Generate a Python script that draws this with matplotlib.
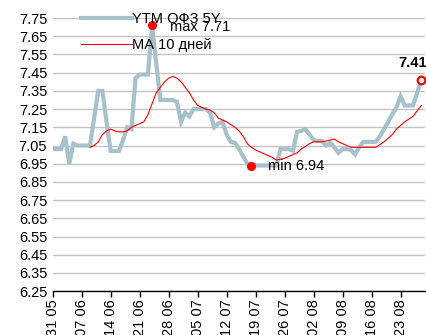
import matplotlib
matplotlib.use("Agg")
import matplotlib.pyplot as plt
import numpy as np

plt.rcParams['font.family'] = ['Liberation Sans', 'DejaVu Sans']

# daily yields, 31.05 - 28.08
ytm = [7.03, 7.03, 7.03, 7.10, 6.95, 7.06, 7.05, 7.05, 7.05, 7.05,
       7.20, 7.35, 7.35, 7.18, 7.02, 7.02, 7.02, 7.08, 7.15, 7.14,
       7.42, 7.44, 7.44, 7.44, 7.71, 7.50, 7.30, 7.30, 7.30, 7.30,
       7.29, 7.18, 7.23, 7.21, 7.25, 7.25, 7.25, 7.25, 7.23, 7.15,
       7.17, 7.18, 7.11, 7.07, 7.065, 7.03, 6.99, 6.95, 6.94, 6.94,
       6.94, 6.94, 6.94, 6.94, 6.94, 7.03, 7.03, 7.03, 7.02, 7.125,
       7.13, 7.14, 7.11, 7.08, 7.075, 7.075, 7.05, 7.065, 7.04, 7.01,
       7.03, 7.03, 7.025, 7.00, 7.04, 7.07, 7.07, 7.07, 7.07, 7.10,
       7.14, 7.18, 7.22, 7.26, 7.32, 7.27, 7.27, 7.27, 7.34, 7.41]

# 10-day moving average, starts on the 10th day
ma10 = [7.04, 7.05, 7.07, 7.11, 7.13, 7.14, 7.13, 7.125, 7.125, 7.13,
        7.15, 7.16, 7.17, 7.18, 7.22, 7.28, 7.34, 7.37, 7.40, 7.42,
        7.43, 7.42, 7.40, 7.37, 7.34, 7.30, 7.27, 7.26, 7.25, 7.245,
        7.23, 7.20, 7.19, 7.18, 7.165, 7.15, 7.13, 7.10, 7.06, 7.04,
        7.025, 7.015, 7.005, 6.995, 6.985, 6.97, 6.975, 6.98, 6.99, 7.00,
        7.01, 7.03, 7.045, 7.06, 7.07, 7.07, 7.07, 7.075, 7.08, 7.085,
        7.07, 7.06, 7.05, 7.04, 7.04, 7.04, 7.04, 7.04, 7.04, 7.04,
        7.055, 7.07, 7.09, 7.11, 7.14, 7.16, 7.18, 7.195, 7.21, 7.24,
        7.27]
ma_start = 9

tick_labels = ["31 05", "07 06", "14 06", "21 06", "28 06", "05 07", "12 07",
               "19 07", "26 07", "02 08", "09 08", "16 08", "23 08"]
y_ticks = [6.25, 6.35, 6.45, 6.55, 6.65, 6.75, 6.85, 6.95, 7.05, 7.15,
           7.25, 7.35, 7.45, 7.55, 7.65, 7.75]

x = np.arange(len(ytm))
x_ma = np.arange(ma_start, ma_start + len(ma10))
i_max = int(np.argmax(ytm))
i_min = int(np.argmin(ytm))
last = len(ytm) - 1

fig = plt.figure(figsize=(4.26, 3.35), dpi=100)
ax = fig.add_axes([0.1237, 0.131, 0.874, 0.815])

ax.plot(x, ytm, color="#a7c1ca", lw=3.0, solid_joinstyle="miter",
        label="YTM ОФЗ 5Y", zorder=2)
ax.plot(x_ma, ma10, color="#ff0000", lw=0.8, label="МА 10 дней", zorder=3)

ax.plot(i_max, ytm[i_max], "o", color="#ff0000", ms=5.5, zorder=4)
ax.plot(i_min, ytm[i_min], "o", color="#ff0000", ms=5.5, zorder=4)
ax.plot(last, ytm[last], "o", mfc="white", mec="#ff0000", mew=1.6, ms=5.5, zorder=4)

ax.annotate(f"max {ytm[i_max]:.2f}", (i_max, ytm[i_max]), xytext=(13, -1),
            textcoords="offset points", fontsize=10.5, va="center", zorder=5)
ax.annotate(f"min {ytm[i_min]:.2f}", (i_min, ytm[i_min]), xytext=(12, 0),
            textcoords="offset points", fontsize=10.5, va="center", zorder=5)
ax.annotate(f"{ytm[last]:.2f}", (last, ytm[last]), xytext=(4, 12),
            textcoords="offset points", fontsize=10.5, fontweight="bold",
            ha="right", va="center", zorder=5, annotation_clip=False)

ax.set_ylim(6.25, 7.75)
ax.set_yticks(y_ticks)
ax.set_yticklabels([f"{v:.2f}" for v in y_ticks])
ax.set_xlim(0, 89.9)
ax.set_xticks(np.arange(0, 7 * len(tick_labels), 7))
ax.set_xticklabels(tick_labels, rotation=90)

ax.grid(axis="y", color="#c4c4c4", lw=1.0)
ax.set_axisbelow(True)
for side in ("left", "right", "top"):
    ax.spines[side].set_visible(False)
ax.spines["bottom"].set_color("black")
ax.spines["bottom"].set_linewidth(1.0)
ax.tick_params(axis="y", length=0, labelsize=10.5, pad=4)
ax.tick_params(axis="x", length=4, width=1, labelsize=10.5, pad=2, direction="out")

ax.legend(loc="upper left", bbox_to_anchor=(0.06, 1.045), frameon=False,
          fontsize=10.5, handlelength=3.5, handletextpad=0.0,
          labelspacing=0.85, borderaxespad=0)

fig.savefig("out.png", dpi=100)
